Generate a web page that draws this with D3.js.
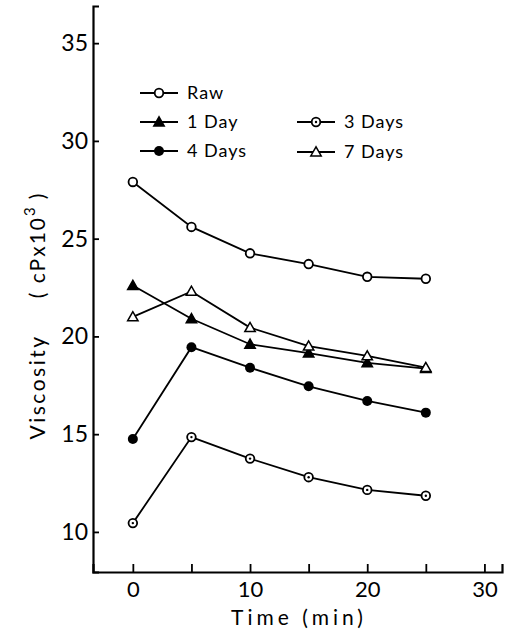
<!DOCTYPE html>
<html>
<head>
<meta charset="utf-8">
<script src="https://cdn.jsdelivr.net/npm/d3@7"></script>
<style>
body { margin: 0; background: #fff; }
text { font-family: "Lato", "DejaVu Sans", sans-serif; fill: #000; }
</style>
</head>
<body>
<svg id="chart" width="508" height="630"></svg>
<script>
const times = [0, 5, 10, 15, 20, 25];
const raw = [27.9, 25.6, 24.25, 23.7, 23.05, 22.95];
const day1 = [22.6, 20.9, 19.6, 19.15, 18.65, 18.35];
const day3 = [10.45, 14.85, 13.75, 12.8, 12.15, 11.85];
const day4 = [14.75, 19.45, 18.4, 17.45, 16.7, 16.1];
const day7 = [21.0, 22.3, 20.45, 19.5, 19.0, 18.4];
const xTicks = [0, 10, 20, 30];
const xMinorTicks = [5, 15, 25];
const yTicks = [10, 15, 20, 25, 30, 35];

const series = [
  { name: "Raw", values: raw, marker: "open" },
  { name: "1 Day", values: day1, marker: "tri-filled" },
  { name: "4 Days", values: day4, marker: "filled" },
  { name: "3 Days", values: day3, marker: "dot" },
  { name: "7 Days", values: day7, marker: "tri-open" }
];

const svg = d3.select("#chart");
const x = d3.scaleLinear().domain([-3.4, 31.5]).range([93, 502]);
const y = d3.scaleLinear().domain([7.95, 36.9]).range([572, 6]);

// axes
const xAxis = d3.axisBottom(x).tickValues(xTicks.concat(xMinorTicks)).tickSize(-8).tickFormat(d => xTicks.includes(d) ? d : "");
const gx = svg.append("g").attr("transform", `translate(0,${y.range()[0]})`).call(xAxis);
gx.select(".domain").attr("stroke", "#000").attr("stroke-width", 2.2);
gx.selectAll(".tick line").attr("stroke", "#000").attr("stroke-width", 1.8);
gx.selectAll(".tick text").attr("font-size", 22).attr("dy", 0).attr("y", 25);

const yAxis = d3.axisLeft(y).tickValues(yTicks).tickSize(-6).tickPadding(4);
const gy = svg.append("g").attr("transform", `translate(${x.range()[0]},0)`).call(yAxis);
gy.select(".domain").attr("stroke", "#000").attr("stroke-width", 2.2);
gy.selectAll(".tick line").attr("stroke", "#000").attr("stroke-width", 1.8);
gy.selectAll(".tick text").attr("font-size", 23).attr("x", -5);

// axis titles
svg.append("text").attr("x", 299).attr("y", 625).attr("text-anchor", "middle")
  .attr("font-size", 21).attr("letter-spacing", 4).text("Time (min)");
svg.append("text").attr("transform", "translate(45,387) rotate(-90)")
  .attr("text-anchor", "middle").attr("font-size", 21).attr("letter-spacing", 2.5)
  .text("Viscosity");
const yl = svg.append("text").attr("transform", "translate(45,245) rotate(-90)")
  .attr("text-anchor", "middle").attr("font-size", 21).attr("letter-spacing", 2);
yl.append("tspan").text("(");
yl.append("tspan").attr("dx", 8).text("cPx10");
yl.append("tspan").attr("dy", -10).attr("font-size", 15).text("3");
yl.append("tspan").attr("dy", 10).attr("dx", 6).text(")");

function drawMarker(g, type, cx, cy) {
  if (type === "open") {
    g.append("circle").attr("cx", cx).attr("cy", cy).attr("r", 4.3)
      .attr("fill", "#fff").attr("stroke", "#000").attr("stroke-width", 1.8);
  } else if (type === "filled") {
    g.append("circle").attr("cx", cx).attr("cy", cy).attr("r", 5).attr("fill", "#000");
  } else if (type === "dot") {
    g.append("circle").attr("cx", cx).attr("cy", cy).attr("r", 4.3)
      .attr("fill", "#fff").attr("stroke", "#000").attr("stroke-width", 1.8);
    g.append("circle").attr("cx", cx).attr("cy", cy).attr("r", 1.2).attr("fill", "#000");
  } else if (type === "tri-filled" || type === "tri-open") {
    const s = 5.2;
    const pts = [[cx, cy - s], [cx - s, cy + s * 0.75], [cx + s, cy + s * 0.75]];
    g.append("path").attr("d", "M" + pts.map(p => p.join(",")).join("L") + "Z")
      .attr("fill", type === "tri-filled" ? "#000" : "#fff")
      .attr("stroke", "#000").attr("stroke-width", 1.5).attr("stroke-linejoin", "miter");
  }
}

const line = d3.line().x((d, i) => x(times[i])).y(d => y(d));
series.forEach(s => {
  const g = svg.append("g");
  g.append("path").attr("d", line(s.values)).attr("fill", "none")
    .attr("stroke", "#000").attr("stroke-width", 1.8);
  s.values.forEach((v, i) => drawMarker(g, s.marker, x(times[i]), y(v)));
});

// legend
const legendPos = [
  { name: "Raw", lx: 140, ly: 93 },
  { name: "1 Day", lx: 140, ly: 122 },
  { name: "4 Days", lx: 140, ly: 151 },
  { name: "3 Days", lx: 297, ly: 122 },
  { name: "7 Days", lx: 297, ly: 152 }
];
legendPos.forEach(p => {
  const s = series.find(d => d.name === p.name);
  const g = svg.append("g");
  g.append("line").attr("x1", p.lx).attr("x2", p.lx + 38).attr("y1", p.ly).attr("y2", p.ly)
    .attr("stroke", "#000").attr("stroke-width", 1.8);
  drawMarker(g, s.marker, p.lx + 19, p.ly);
  g.append("text").attr("x", p.lx + 47).attr("y", p.ly).attr("dy", "0.35em")
    .attr("font-size", 18).attr("letter-spacing", 1).text(s.name);
});
</script>
</body>
</html>
